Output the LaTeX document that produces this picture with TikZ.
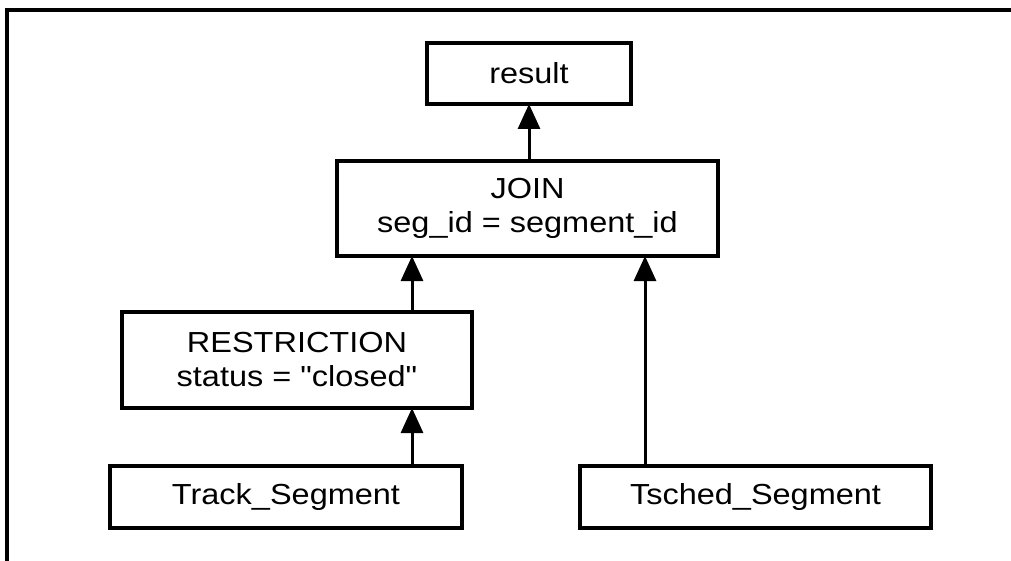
\documentclass[tikz,border=0pt]{standalone}
\usepackage{fontspec}
\setmainfont{Liberation Sans}[FakeStretch=1.12,Ligatures=TeXOff]
\usetikzlibrary{arrows.meta}

\begin{document}
\begin{tikzpicture}
[x=0.5pt,y=-0.5pt,
every node/.style={draw,line width=1.6pt,inner sep=0pt,outer sep=0pt,align=center,
  font=\fontsize{14.5}{17}\selectfont},
feed/.style={line width=1.5pt,-{Triangle[length=12.5pt,width=11pt]}},
]
\useasboundingbox (0,0) rectangle (1011,561);
\draw[line width=2pt] (7,561) -- (7,10) -- (1011,10);

\node[minimum width=102pt,minimum height=30.5pt] (result) at (529,73.5) {result};
\node[minimum width=190.5pt,minimum height=47.5pt] (join) at (527.5,208.5)
  {JOIN\\seg\_id = segment\_id};
\node[minimum width=175pt,minimum height=48pt] (restr) at (297,360)
  {RESTRICTION\\status = "closed"};
\node[minimum width=176pt,minimum height=31pt] (track) at (286,497) {Track\_Segment};
\node[minimum width=175.5pt,minimum height=31pt] (tsched) at (755.5,497) {Tsched\_Segment};

\coordinate (leftlane) at (412,0);
\coordinate (rightlane) at (645,0);

\draw[feed] (join.north -| result.south) -- (result.south);
\draw[feed] (restr.north -| leftlane) -- (join.south -| leftlane);
\draw[feed] (track.north -| leftlane) -- (restr.south -| leftlane);
\draw[feed] (tsched.north -| rightlane) -- (join.south -| rightlane);
\end{tikzpicture}
\end{document}
